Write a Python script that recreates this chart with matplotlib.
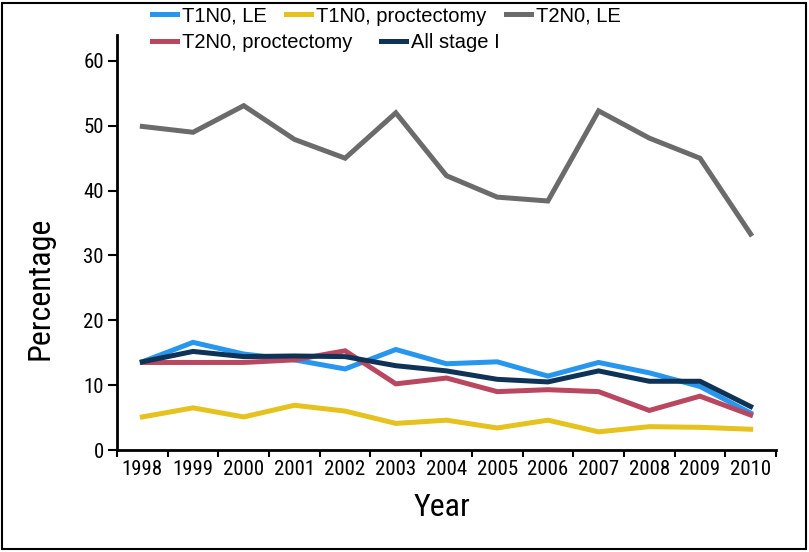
import matplotlib
matplotlib.use("Agg")
import matplotlib.pyplot as plt
from matplotlib.patches import Rectangle

years = ["1998", "1999", "2000", "2001", "2002", "2003", "2004",
         "2005", "2006", "2007", "2008", "2009", "2010"]

t1n0_le = [13.6, 16.6, 14.8, 13.9, 12.5, 15.5, 13.3, 13.6, 11.4, 13.5, 11.9, 9.8, 5.7]
t1n0_proct = [5.1, 6.5, 5.1, 6.9, 6.0, 4.1, 4.6, 3.4, 4.6, 2.8, 3.6, 3.5, 3.2]
t2n0_le = [49.9, 49.0, 53.1, 47.9, 45.0, 52.0, 42.3, 39.0, 38.4, 52.3, 48.1, 45.0, 33.3]
t2n0_proct = [13.5, 13.5, 13.5, 13.9, 15.3, 10.2, 11.1, 9.0, 9.3, 9.0, 6.1, 8.3, 5.4]
all_stage1 = [13.6, 15.2, 14.4, 14.5, 14.4, 13.0, 12.2, 10.9, 10.5, 12.2, 10.6, 10.6, 6.7]

series = [
    ("T1N0, LE", t1n0_le, "#2796ee"),
    ("T1N0, proctectomy", t1n0_proct, "#e5c21d"),
    ("T2N0, LE", t2n0_le, "#6b6b6b"),
    ("T2N0, proctectomy", t2n0_proct, "#b8475f"),
    ("All stage I", all_stage1, "#0e3356"),
]

narrow = ["Roboto Condensed", "DejaVu Sans"]
regular = ["Liberation Sans", "DejaVu Sans"]

fig = plt.figure(figsize=(8.09, 5.52), dpi=100)
ax = fig.add_axes([117 / 809, 1 - 450 / 552, 659 / 809, 415 / 552])

x = list(range(len(years)))
lines = []
for label, vals, color in series:
    ln, = ax.plot(x, vals, color=color, lw=3.6, label=label,
                  solid_joinstyle="miter")
    lines.append(ln)

ax.set_xlim(-0.5, len(years) - 0.5)
ax.set_ylim(0, 64)

# category axis: tick marks between years, labels centred on years
ax.set_xticks([i - 0.5 for i in range(len(years) + 1)])
ax.set_xticklabels([])
ax.set_xticks(x, minor=True)
ax.set_xticklabels(years, minor=True, family=narrow, fontsize=15)
ax.tick_params(axis="x", which="major", direction="out", length=5, width=1.5)
ax.tick_params(axis="x", which="minor", length=0, pad=7)

ax.set_yticks(range(0, 61, 10))
ax.set_yticklabels([str(v) for v in range(0, 61, 10)], family=narrow, fontsize=15)
ax.tick_params(axis="y", direction="out", length=6.5, width=1.5, pad=3)

for side in ["top", "right"]:
    ax.spines[side].set_visible(False)
for side in ["left", "bottom"]:
    ax.spines[side].set_linewidth(2)

ax.set_ylabel("Percentage", family=narrow, fontsize=23)
ax.yaxis.set_label_coords((40 - 117) / 659, (450 - 288) / 415)
ax.yaxis.label.set_va("center")
ax.set_xlabel("Year", family=narrow, fontsize=23)
ax.xaxis.set_label_coords((442 - 117) / 659, (450 - 508) / 415)
ax.xaxis.label.set_va("center")

# legend laid out as two rows, like the original
leg_kw = dict(loc="center left", frameon=False, borderpad=0, borderaxespad=0,
              handlelength=1.25, handletextpad=0.25, columnspacing=0.95,
              prop={"family": regular, "size": 14.5})
fig.legend(lines[:3], [s[0] for s in series[:3]], ncol=3,
           bbox_to_anchor=(152 / 809, 1 - 16 / 552), **leg_kw)
fig.legend(lines[3:], [s[0] for s in series[3:]], ncol=2,
           bbox_to_anchor=(152 / 809, 1 - 43 / 552),
           **{**leg_kw, "columnspacing": 1.4})

# thin frame around the whole figure
fig.patches.append(Rectangle((2 / 809, 3 / 552), 804 / 809, 546 / 552,
                             transform=fig.transFigure, fill=False,
                             edgecolor="black", lw=1.5))

fig.savefig("out.png", dpi=100)
